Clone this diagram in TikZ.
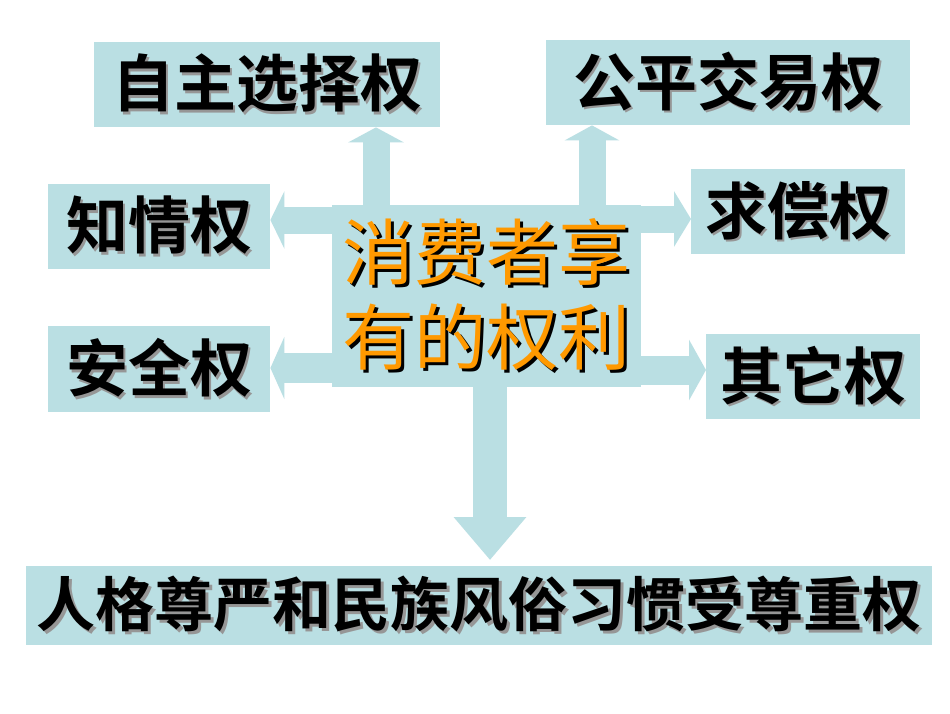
\documentclass[tikz,border=0pt]{standalone}
\usepackage{fontspec}
\newfontfamily\cjk{Noto Sans CJK SC}[BoldFont={Noto Sans CJK SC Bold}]
\usetikzlibrary{arrows.meta}
\definecolor{boxc}{RGB}{186,223,227}
\definecolor{orng}{RGB}{255,153,0}
\definecolor{shd}{RGB}{150,150,150}
\newcommand\shtxt[3]{\makebox[0pt][l]{\kern#3\raisebox{-#3}{\textcolor{#1}{#2}}}#2}
\begin{document}
\begin{tikzpicture}[x=1pt,y=-1pt,
  rbox/.style={fill=boxc, inner sep=0pt, anchor=north west,
    font=\cjk\bfseries\fontsize{62}{70}\selectfont, text=black},
  blockarrow/.style={draw=boxc, line width=#1}]
\useasboundingbox (0,0) rectangle (950,713);
\fill[white] (0,0) rectangle (950,713);
% arrow axis coordinates
\coordinate (xa) at (376,0);
\coordinate (xb) at (592,0);
\coordinate (xd) at (490,0);
\coordinate (ya) at (0,219);
\coordinate (yb) at (0,370);
\coordinate (yc) at (0,220);
\coordinate (ye) at (0,368);
% boxes
\node[rbox, minimum width=346pt, minimum height=85pt] (zz) at (94,42) {\shtxt{shd}{自主选择权}{2.5pt}};
\node[rbox, minimum width=364pt, minimum height=85pt] (gp) at (546,40) {\shtxt{shd}{公平交易权}{2.5pt}};
\node[rbox, minimum width=222pt, minimum height=85pt] (zq) at (48,184) {\shtxt{shd}{知情权}{2.5pt}};
\node[rbox, minimum width=214pt, minimum height=85pt] (qc) at (691,169) {\shtxt{shd}{求偿权}{2.5pt}};
\node[rbox, minimum width=222pt, minimum height=86pt] (aq) at (48,326) {\shtxt{shd}{安全权}{2.5pt}};
\node[rbox, minimum width=214pt, minimum height=85pt] (qt) at (706,334) {\shtxt{shd}{其它权}{2.5pt}};
\node[rbox, minimum width=906pt, minimum height=79pt, font=\cjk\bfseries\fontsize{59}{66}\selectfont] (bt) at (26,566) {\shtxt{shd}{人格尊严和民族风俗习惯受尊重权}{2.5pt}};
\node[rbox, minimum width=309pt, minimum height=182pt, font=\cjk\fontsize{72}{85}\selectfont,
  text=orng, align=center] (c) at (332,205)
  {\shtxt{black}{消费者享}{3pt}\\\shtxt{black}{有的权利}{3pt}};
% block arrows
\draw[blockarrow=27pt, -{Triangle[length=15pt,width=55pt]}] (xa |- c.north) -- (xa |- zz.south);
\draw[blockarrow=27pt, -{Triangle[length=15pt,width=54pt]}] (xb |- c.north) -- (xb |- gp.south);
\draw[blockarrow=27pt, -{Triangle[length=17pt,width=55pt]}] (c.east |- ya) -- (qc.west |- ya);
\draw[blockarrow=29pt, -{Triangle[length=17pt,width=60pt]}] (c.east |- yb) -- (qt.west |- yb);
\draw[blockarrow=27pt, -{Triangle[length=14pt,width=57pt]}] (c.west |- yc) -- (zq.east |- yc);
\draw[blockarrow=30pt, -{Triangle[length=14pt,width=62pt]}] (c.west |- ye) -- (aq.east |- ye);
\draw[blockarrow=34pt, -{Triangle[length=43pt,width=70pt]}, shorten >=6pt] (xd |- c.south) -- (xd |- bt.north);
\end{tikzpicture}
\end{document}
